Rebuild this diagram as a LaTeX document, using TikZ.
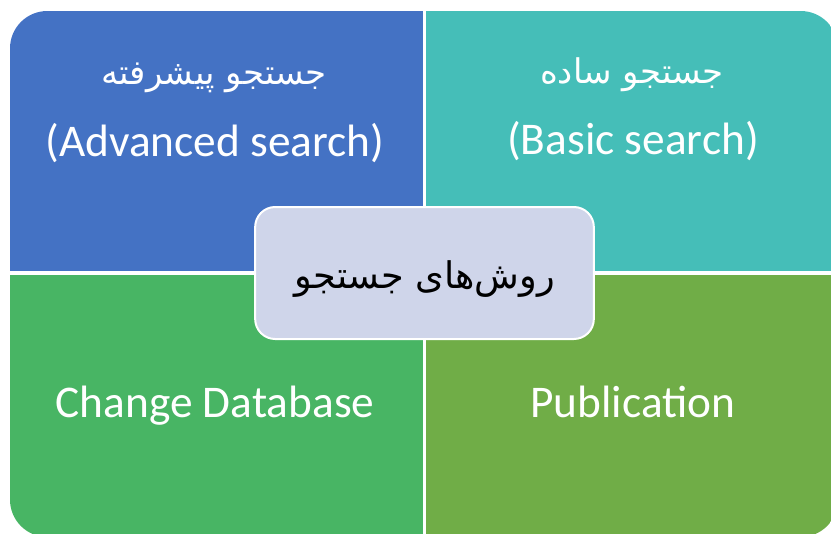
\documentclass[tikz,border=0pt]{standalone}
\usepackage{fontspec}
\setmainfont{Carlito}
\newfontfamily\arabicfont[Script=Arabic]{DejaVu Sans}
\TeXXeTstate=1
\definecolor{qblue}{HTML}{4472C4}
\definecolor{qteal}{HTML}{45BEB8}
\definecolor{qgreen}{HTML}{48B564}
\definecolor{qolive}{HTML}{70AD47}
\definecolor{hubfill}{HTML}{CFD5EA}
\begin{document}
\begin{tikzpicture}[x=0.75pt,y=-0.75pt,
  entxt/.style={text=white,font=\fontsize{34}{40}\selectfont,inner sep=0pt,anchor=base},
  artxt/.style={text=white,font=\arabicfont\fontsize{25.5}{30}\selectfont,inner sep=0pt,anchor=base},
  hubbox/.style={draw=white,line width=1.5pt,fill=hubfill,rounded corners=15pt,
    minimum width=254pt,minimum height=99pt,inner sep=0pt},
  hubtxt/.style={font=\arabicfont\fontsize{27.5}{32}\selectfont,text=black,inner sep=0pt,anchor=base}]
\useasboundingbox (0,0) rectangle (831,533);
\begin{scope}
  \clip[rounded corners=28pt] (10,11) rectangle (838,537);
  \fill[qblue]  (10,11)    rectangle (424.5,273);
  \fill[qteal]  (424.5,11) rectangle (838,273);
  \fill[qgreen] (10,273)   rectangle (424.5,537);
  \fill[qolive] (424.5,273) rectangle (838,537);
  \draw[white,line width=2.4pt] (424.5,0) -- (424.5,540);
  \draw[white,line width=2.4pt] (0,273) -- (840,273);
\end{scope}
\node[artxt] (adv-fa) at (214,84) {\beginR جستجو پیشرفته\endR};
\node[entxt] (adv-en) at (215,156) {(Advanced search)};
\node[artxt] (bas-fa) at (632,83) {\beginR جستجو ساده\endR};
\node[entxt] (bas-en) at (633,154) {(Basic search)};
\node[entxt] (chg) at (215,417) {Change Database};
\node[entxt] (pub) at (633,417) {Publication};
\node[hubbox] (hub) at (424.5,273) {};
\node[hubtxt] (hub-txt) at (425,288) {\beginR روش‌های جستجو\endR};
\end{tikzpicture}
\end{document}
